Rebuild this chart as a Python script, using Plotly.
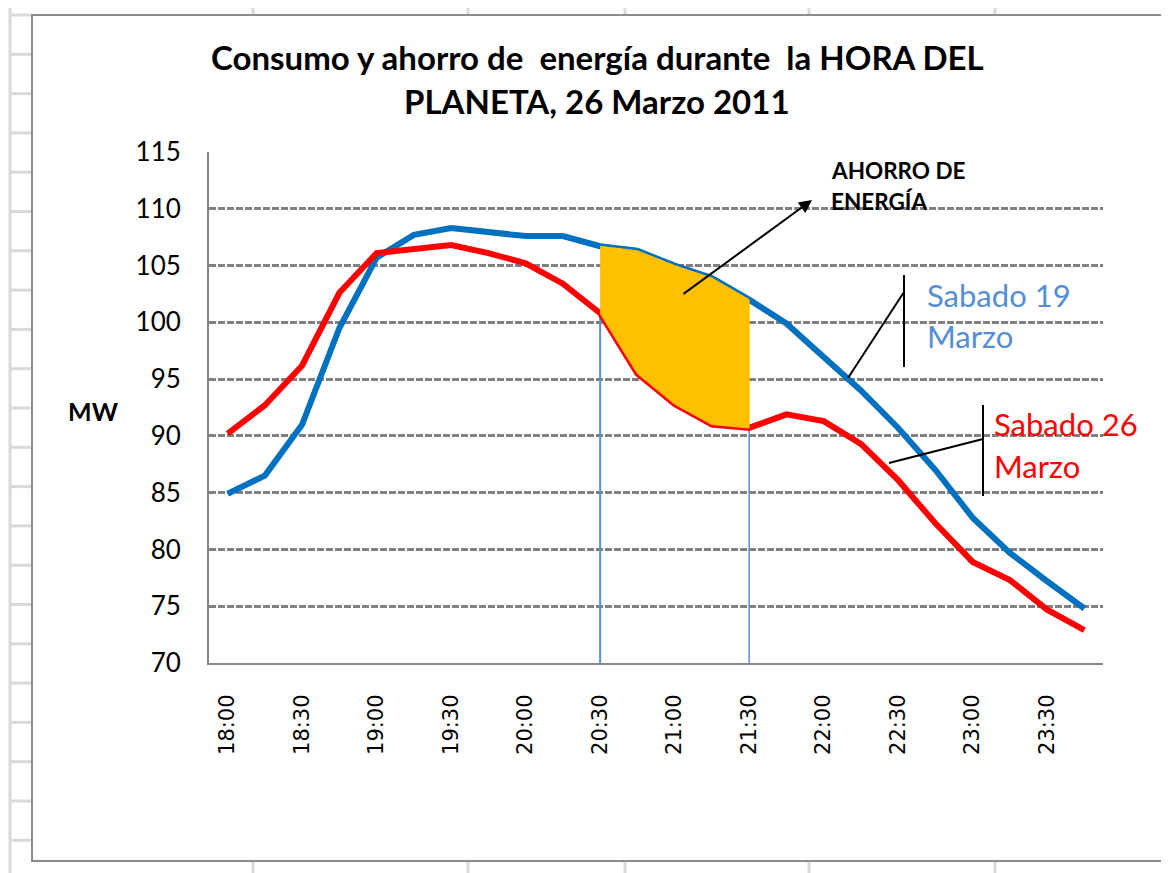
import plotly.graph_objects as go

# ---------------- data ----------------
times = ["18:00", "18:15", "18:30", "18:45", "19:00", "19:15", "19:30", "19:45",
         "20:00", "20:15", "20:30", "20:45", "21:00", "21:15", "21:30", "21:45",
         "22:00", "22:15", "22:30", "22:45", "23:00", "23:15", "23:30", "23:45"]
sabado_19 = [84.9, 86.5, 91.0, 99.5, 105.7, 107.7, 108.3, 108.0, 107.6, 107.6, 106.7, 106.3,
             105.0, 103.9, 102.0, 99.9, 97.0, 94.0, 90.7, 87.0, 82.8, 79.7, 77.2, 74.8]
sabado_26 = [90.2, 92.7, 96.2, 102.6, 106.1, 106.4, 106.8, 106.1, 105.2, 103.4, 100.8, 95.5,
             92.8, 91.0, 90.7, 91.9, 91.3, 89.3, 86.1, 82.3, 78.9, 77.3, 74.7, 72.9]
tick_labels = times[::2]
y_ticks = [70, 75, 80, 85, 90, 95, 100, 105, 110, 115]
hour_start, hour_end = "20:30", "21:30"

# ---------------- layout helpers ----------------
OFF = 8  # page body margin
W, H = 1169 - OFF, 873 - OFF
L, R, T, B = 209 - OFF, 1103 - OFF, 152 - OFF, 663 - OFF


def px(x):
    return (x - OFF - L) / (R - L)


def py(y):
    return (B - (y - OFF)) / (B - T)


i0, i1 = times.index(hour_start), times.index(hour_end)

fig = go.Figure()

# vertical lines marking the hour
for t, w in [(hour_start, 2), (hour_end, 1.5)]:
    k = times.index(t)
    fig.add_trace(go.Scatter(x=[t, t], y=[y_ticks[0], sabado_26[k]], mode="lines",
                             line=dict(color="#5B8FD6", width=w), showlegend=False,
                             hoverinfo="skip"))

fig.add_trace(go.Scatter(x=times, y=sabado_19, mode="lines", name="Sabado 19 Marzo",
                         line=dict(color="#0070C0", width=6), showlegend=False))
fig.add_trace(go.Scatter(x=times, y=sabado_26, mode="lines", name="Sabado 26 Marzo",
                         line=dict(color="#FF0000", width=6), showlegend=False))

# savings area
poly_x = times[i0:i1 + 1] + times[i0:i1 + 1][::-1]
poly_y = sabado_19[i0:i1 + 1] + sabado_26[i0:i1 + 1][::-1]
fig.add_trace(go.Scatter(x=poly_x, y=poly_y, mode="lines", fill="toself",
                         fillcolor="#FFC000", line=dict(color="#FFC000", width=1),
                         showlegend=False, hoverinfo="skip"))

shapes = []
# Excel sheet background grid (outside chart)
GRAY_SHEET = "#D9D9D9"
shapes.append(dict(type="line", xref="paper", yref="paper", x0=px(10), x1=px(10),
                   y0=py(0), y1=py(873), line=dict(color=GRAY_SHEET, width=3)))
for k in range(23):
    yy = 15 + 39.3 * k
    shapes.append(dict(type="line", xref="paper", yref="paper", x0=px(10), x1=px(32),
                       y0=py(yy), y1=py(yy), line=dict(color=GRAY_SHEET, width=3)))
for xx in [253, 468, 625, 809, 995]:
    shapes.append(dict(type="line", xref="paper", yref="paper", x0=px(xx), x1=px(xx),
                       y0=py(0), y1=py(15), line=dict(color=GRAY_SHEET, width=3)))
    shapes.append(dict(type="line", xref="paper", yref="paper", x0=px(xx), x1=px(xx),
                       y0=py(861), y1=py(873), line=dict(color=GRAY_SHEET, width=3)))
# chart border
shapes.append(dict(type="rect", xref="paper", yref="paper", x0=px(32), x1=px(1180),
                   y0=py(861), y1=py(15), line=dict(color="#8C8C8C", width=2)))
# brackets for labels
for (xa, ya, xb, yb) in [(904, 275, 904, 367), (904, 292, 848, 378),
                         (983, 405, 983, 496), (983, 439, 889, 463)]:
    shapes.append(dict(type="line", xref="paper", yref="paper", x0=px(xa), x1=px(xb),
                       y0=py(ya), y1=py(yb), line=dict(color="#000000", width=2)))

annotations = []
TITLE_FONT = dict(family="Lato", size=33, color="#000000")
annotations.append(dict(xref="paper", yref="paper", x=px(597), y=py(57),
                        text="<b>Consumo y ahorro de\u00a0 energía durante\u00a0 la HORA DEL</b>",
                        showarrow=False, xanchor="center", yanchor="middle", font=TITLE_FONT))
annotations.append(dict(xref="paper", yref="paper", x=px(597), y=py(101),
                        text="<b>PLANETA, 26 Marzo 2011</b>",
                        showarrow=False, xanchor="center", yanchor="middle", font=TITLE_FONT))
annotations.append(dict(xref="paper", yref="paper", x=px(93), y=py(411), text="<b>MW</b>",
                        showarrow=False, xanchor="center", yanchor="middle",
                        font=dict(family="Lato", size=25, color="#000000")))
for txt, yy in [("<b>AHORRO DE</b>", 170), ("<b>ENERGÍA</b>", 201)]:
    annotations.append(dict(xref="paper", yref="paper", x=px(829), y=py(yy), text=txt,
                            showarrow=False, xanchor="left", yanchor="middle",
                            font=dict(family="Lato", size=22.5, color="#000000")))
# arrow
annotations.append(dict(xref="paper", yref="paper", x=px(812), y=py(200), text="",
                        showarrow=True, ax=682 - 812, ay=295 - 200, arrowhead=2,
                        arrowsize=1.3, arrowwidth=2, arrowcolor="#000000"))
for txt, yy, col, xx in [("Sabado 19", 295, "#558ED5", 925), ("Marzo", 336, "#558ED5", 925),
                         ("Sabado 26", 424, "#FF0000", 992), ("Marzo", 466, "#FF0000", 992)]:
    annotations.append(dict(xref="paper", yref="paper", x=px(xx), y=py(yy), text=txt,
                            showarrow=False, xanchor="left", yanchor="middle",
                            font=dict(family="Lato", size=31, color=col)))

fig.update_layout(
    width=W, height=H,
    margin=dict(l=L, r=W - R, t=T, b=H - B),
    paper_bgcolor="#FFFFFF", plot_bgcolor="#FFFFFF",
    showlegend=False,
    shapes=shapes,
    annotations=annotations,
    xaxis=dict(type="category", categoryorder="array", categoryarray=times,
               range=[-0.5, len(times) - 0.5], tickmode="array",
               tickvals=tick_labels, ticktext=tick_labels, tickangle=-90,
               showgrid=False, showline=True, linecolor="#868686", linewidth=2,
               ticks="", ticklabelstandoff=21,
               tickfont=dict(family="DejaVu Sans", size=21, color="#000000"),
               zeroline=False),
    yaxis=dict(range=[70, 115], tickmode="array", tickvals=y_ticks,
               showgrid=True, gridcolor="#808080", gridwidth=2.5, griddash="7px,2px",
               showline=True, linecolor="#868686", linewidth=2, ticks="",
               ticklabelstandoff=21,
               tickfont=dict(family="Lato", size=26, color="#000000"),
               zeroline=False),
)

fig.write_html("out.html")
